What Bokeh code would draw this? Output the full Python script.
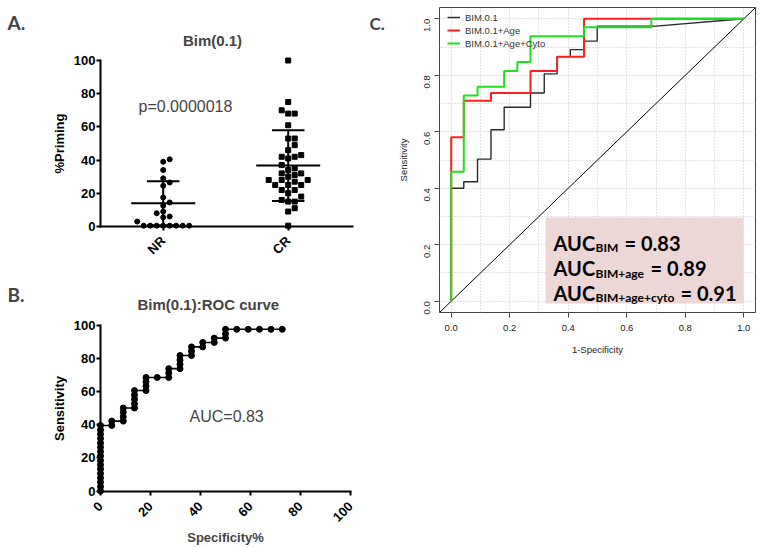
import math
from bokeh.plotting import figure
from bokeh.models import (Range1d, FixedTicker, LinearAxis, Label, Legend, LegendItem,
                          BoxAnnotation, Slope)
from bokeh.layouts import row, column
from bokeh.embed import file_html
from bokeh.resources import INLINE

# ---------------- data ----------------
groups = ["NR", "CR"]
nr_priming = [40.5, 39, 34, 29, 26.5, 24.5, 17.5, 14.5, 12.5, 9, 8, 6, 5.5, 3,
              0.5, 0.5, 0.5, 0.5, 0.5, 0.5, 0.5, 0.5]
cr_priming = [100, 75, 70, 68, 68, 61, 53, 53, 49, 46, 42, 43, 42, 41, 37, 32, 32, 31,
              30, 28, 28, 28, 25, 25, 25, 22, 22, 20, 18, 16, 15, 15, 11, 9, 0.5, 34, 27, 35]
group_mean = [14.0, 36.7]
group_sd = [13.3, 21.3]
p_text = "p=0.0000018"
priming_ticks = [0, 20, 40, 60, 80, 100]

roc_spec_pct = [0, 0, 0, 0, 0, 0, 0, 0, 0, 0, 0, 0, 0, 0, 0, 0,
                4.5, 4.5,
                9.1, 9.1, 9.1, 9.1,
                13.6, 13.6, 13.6, 13.6, 13.6,
                18.2, 18.2, 18.2, 18.2,
                22.7,
                27.3, 27.3, 27.3,
                31.8, 31.8, 31.8, 31.8,
                36.4, 36.4, 36.4,
                40.9, 40.9,
                45.5, 45.5,
                50.0, 50.0, 50.0,
                54.5, 59.1, 63.6, 68.2, 72.7]
roc_sens_pct = [0, 2.6, 5.3, 7.9, 10.5, 13.2, 15.8, 18.4, 21.1, 23.7, 26.3, 28.9, 31.6, 34.2, 36.8, 39.5,
                39.5, 42.1,
                42.1, 44.7, 47.4, 50.0,
                50.0, 52.6, 55.3, 57.9, 60.5,
                60.5, 63.2, 65.8, 68.4,
                68.4,
                68.4, 71.1, 73.7,
                73.7, 76.3, 78.9, 81.6,
                81.6, 84.2, 86.8,
                86.8, 89.5,
                89.5, 92.1,
                92.1, 94.7, 97.4,
                97.4, 97.4, 97.4, 97.4, 97.4]
roc_ticks = [0, 20, 40, 60, 80, 100]
auc_b_text = "AUC=0.83"

fpr_bim = [0, 0, 0.043, 0.043, 0.090, 0.090, 0.136, 0.136, 0.181, 0.181, 0.271, 0.271,
           0.318, 0.318, 0.362, 0.362, 0.407, 0.407, 0.454, 0.454, 0.499, 0.499, 0.70, 1.0]
tpr_bim = [0, 0.400, 0.400, 0.423, 0.423, 0.503, 0.503, 0.607, 0.607, 0.687, 0.687, 0.737,
           0.737, 0.805, 0.805, 0.866, 0.866, 0.891, 0.891, 0.921, 0.921, 0.974, 0.974, 1.0]
fpr_age = [0, 0, 0.043, 0.043, 0.136, 0.136, 0.271, 0.271, 0.362, 0.362, 0.454, 0.454, 1.0]
tpr_age = [0, 0.581, 0.581, 0.710, 0.710, 0.737, 0.737, 0.815, 0.815, 0.866, 0.866, 1.0, 1.0]
fpr_cyto = [0, 0, 0.043, 0.043, 0.090, 0.090, 0.181, 0.181, 0.226, 0.226, 0.271, 0.271,
            0.454, 0.454, 0.684, 0.684, 1.0]
tpr_cyto = [0, 0.458, 0.458, 0.728, 0.728, 0.759, 0.759, 0.815, 0.815, 0.847, 0.847, 0.938,
            0.938, 0.970, 0.970, 1.0, 1.0]
c_ticks = [0.0, 0.2, 0.4, 0.6, 0.8, 1.0]
c_tick_labels = ["0.0", "0.2", "0.4", "0.6", "0.8", "1.0"]
c_grid = [0.0, 0.1, 0.2, 0.3, 0.4, 0.5, 0.6, 0.7, 0.8, 0.9, 1.0]
legend_names = ["BIM.0.1", "BIM.0.1+Age", "BIM.0.1+Age+Cyto"]
auc_subs = ["BIM", "BIM+age", "BIM+age+cyto"]
auc_vals = ["= 0.83", "= 0.89", "= 0.91"]

# ---------------- styles ----------------
ARIAL = "Liberation Sans"
BOLDF = "Lato"
C_BLACK = "#2a2a2a"
C_RED = "#ff1e1e"
C_GREEN = "#1fe01f"


def prism_axis(ax):
    ax.axis_line_width = 2
    ax.axis_line_color = "black"
    ax.axis_line_cap = "square"
    ax.major_tick_line_width = 2
    ax.major_tick_line_color = "black"
    ax.major_tick_out = 4
    ax.major_tick_in = 0
    ax.minor_tick_line_color = None
    ax.major_label_text_font = ARIAL
    ax.major_label_text_font_style = "bold"
    ax.major_label_text_font_size = "13px"
    ax.major_label_text_color = "black"
    ax.major_label_standoff = 1
    ax.axis_label_text_font = ARIAL
    ax.axis_label_text_font_style = "bold"
    ax.axis_label_text_font_size = "13px"
    ax.axis_label_text_color = "black"
    ax.axis_label_standoff = 4


def swarm(vals, px_per_unit, step_px, min_dy_px):
    order = sorted(range(len(vals)), key=lambda i: vals[i])
    placed = []
    offs = [0.0] * len(vals)
    cands = [0]
    for n in range(1, 40):
        cands += [n, -n]
    for i in order:
        yv = vals[i] * px_per_unit
        xo = 0.0
        for c in cands:
            xo = c * step_px
            if all(abs(xo - px) >= step_px - 1e-6 or abs(yv - py) >= min_dy_px for py, px in placed):
                break
        placed.append((yv, xo))
        offs[i] = xo
    return offs


def bare_fig(w, h, xr, yr):
    p = figure(width=w, height=h, x_range=xr, y_range=yr, output_backend="svg",
               toolbar_location=None, x_axis_type=None, y_axis_type=None,
               min_border_left=0, min_border_right=0, min_border_top=0, min_border_bottom=0)
    p.outline_line_color = None
    p.background_fill_color = "white"
    p.border_fill_color = "white"
    return p


# page geometry (the page itself has no margin)
PAGE_W = 762
SPLIT_X = 392

# ---------------- panel A ----------------
A_LEFT, A_TOP, A_W, A_H = 0, 0, SPLIT_X, 266
A_NR_PX, A_CR_PX = 162.7, 287.7
A_Y0_PX, A_Y100_PX = 226.0, 60.0
A_XEND_PX = 352.0
A_YAX_PX = 100.0
a_sx = A_CR_PX - A_NR_PX
a_sy = (A_Y0_PX - A_Y100_PX) / 100.0
a_x0 = 1 - (A_NR_PX - A_LEFT) / a_sx


def a_x(px):
    return a_x0 + (px - A_LEFT) / a_sx


def a_y(py):
    return (A_Y0_PX - py) / a_sy


pA = bare_fig(A_W, A_H, Range1d(a_x0, a_x0 + A_W / a_sx),
              Range1d(-(A_TOP + A_H - A_Y0_PX) / a_sy, (A_Y0_PX - A_TOP) / a_sy))

gx = [i + 1 for i in range(len(groups))]
ya = LinearAxis(fixed_location=a_x(A_YAX_PX), bounds=(0, 100),
                ticker=FixedTicker(ticks=priming_ticks), axis_label="%Priming")
prism_axis(ya)
pA.add_layout(ya, "left")
xa = LinearAxis(fixed_location=0, bounds=(a_x(A_YAX_PX), a_x(A_XEND_PX)),
                ticker=FixedTicker(ticks=gx),
                major_label_overrides={g: name for g, name in zip(gx, groups)},
                major_label_orientation=math.pi / 4)
prism_axis(xa)
xa.major_label_standoff = 8
pA.add_layout(xa, "below")

nr_off = swarm(nr_priming, a_sy, 6.5, 5.0)
cr_off = swarm(cr_priming, a_sy, 6.5, 5.0)
pA.scatter([gx[0] + o / a_sx for o in nr_off], nr_priming, marker="circle", size=5,
           color="black")
pA.scatter([gx[1] + o / a_sx for o in cr_off], cr_priming, marker="square", size=5,
           color="black")
MEAN_HALF, CAP_HALF = 0.256, 0.13
pA.segment(x0=[g - MEAN_HALF for g in gx], y0=group_mean, x1=[g + MEAN_HALF for g in gx],
           y1=group_mean, line_width=2, color="black")
lo = [m - s for m, s in zip(group_mean, group_sd)]
hi = [m + s for m, s in zip(group_mean, group_sd)]
pA.segment(x0=gx, y0=lo, x1=gx, y1=hi, line_width=2, color="black")
pA.segment(x0=[g - CAP_HALF for g in gx], y0=hi, x1=[g + CAP_HALF for g in gx], y1=hi,
           line_width=2, color="black")
pA.segment(x0=[g - CAP_HALF for g in gx], y0=lo, x1=[g + CAP_HALF for g in gx], y1=lo,
           line_width=2, color="black")

pA.add_layout(Label(x=a_x(7), y=a_y(22), text="A.", text_font=BOLDF, text_font_style="bold",
                    text_font_size="19px", text_baseline="alphabetic"))
pA.add_layout(Label(x=a_x(212), y=a_y(40), text="Bim(0.1)", text_font=ARIAL,
                    text_font_style="bold", text_font_size="15px", text_align="center",
                    text_baseline="alphabetic"))
pA.add_layout(Label(x=a_x(138), y=a_y(106), text=p_text, text_font=ARIAL,
                    text_font_size="16px", text_baseline="alphabetic"))
# panel C letter sits left of panel C's frame, inside this figure's area
pA.add_layout(Label(x=a_x(369), y=a_y(23), text="C.", text_font=BOLDF, text_font_style="bold",
                    text_font_size="17px", text_baseline="alphabetic"))

# ---------------- panel B ----------------
B_LEFT, B_TOP, B_W, B_H = 0, A_TOP + A_H, SPLIT_X, 280
B_X0_PX, B_X100_PX = 100.0, 350.0
B_Y0_PX, B_Y100_PX = 490.5, 324.5
b_sx = (B_X100_PX - B_X0_PX) / 100.0
b_sy = (B_Y0_PX - B_Y100_PX) / 100.0


def b_x(px):
    return (px - B_X0_PX) / b_sx


def b_y(py):
    return (B_Y0_PX - py) / b_sy


pB = bare_fig(B_W, B_H, Range1d(b_x(B_LEFT), b_x(B_LEFT + B_W)),
              Range1d(b_y(B_TOP + B_H), b_y(B_TOP)))
yb = LinearAxis(fixed_location=0, bounds=(0, 100), ticker=FixedTicker(ticks=roc_ticks),
                axis_label="Sensitivity")
prism_axis(yb)
pB.add_layout(yb, "left")
xb = LinearAxis(fixed_location=0, bounds=(0, 100), ticker=FixedTicker(ticks=roc_ticks),
                major_label_orientation=math.pi / 4)
prism_axis(xb)
xb.major_label_standoff = 9
pB.add_layout(xb, "below")

pB.line(roc_spec_pct, roc_sens_pct, line_width=1.6, color="black")
pB.scatter(roc_spec_pct, roc_sens_pct, marker="circle", size=6, color="black")

pB.add_layout(Label(x=b_x(225), y=b_y(537), text="Specificity%", text_font=ARIAL,
                    text_font_style="bold", text_font_size="13px", text_align="center",
                    text_baseline="alphabetic"))
pB.add_layout(Label(x=b_x(7), y=b_y(294), text="B.", text_font=BOLDF, text_font_style="bold",
                    text_font_size="19px", text_baseline="alphabetic"))
pB.add_layout(Label(x=b_x(137), y=b_y(304), text="Bim(0.1):ROC curve", text_font=ARIAL,
                    text_font_style="bold", text_font_size="15px", text_baseline="alphabetic"))
pB.add_layout(Label(x=b_x(189), y=b_y(416), text=auc_b_text, text_font=ARIAL,
                    text_font_size="16px", text_baseline="alphabetic"))

# ---------------- panel C ----------------
C_FLEFT_PX = 439
C_BL, C_BT, C_BB = C_FLEFT_PX - SPLIT_X, 7, 60
C_FW, C_FH = 316, 305
C_W = PAGE_W - SPLIT_X
C_BR = C_W - C_BL - C_FW
C_H = C_FH + C_BT + C_BB
C_FLEFT = SPLIT_X + C_BL
C_FTOP = C_BT
CR_LO, CR_HI = -0.04, 1.04
c_sx = C_FW / (CR_HI - CR_LO)
c_sy = C_FH / (CR_HI - CR_LO)


def c_x(px):
    return CR_LO + (px - C_FLEFT) / c_sx


def c_y(py):
    return CR_HI - (py - C_FTOP) / c_sy


pC = figure(width=C_W, height=C_H, x_range=Range1d(CR_LO, CR_HI), y_range=Range1d(CR_LO, CR_HI),
            output_backend="svg", toolbar_location=None,
            min_border_left=C_BL, min_border_right=C_BR, min_border_top=C_BT,
            min_border_bottom=C_BB)
pC.background_fill_color = "white"
pC.border_fill_color = "white"
pC.outline_line_color = "#444444"
pC.outline_line_width = 1
for ax in (pC.xaxis[0], pC.yaxis[0]):
    ax.ticker = FixedTicker(ticks=c_ticks)
    ax.major_label_overrides = {t: s for t, s in zip(c_ticks, c_tick_labels)}
    ax.axis_line_color = None
    ax.major_tick_out = 5
    ax.major_tick_in = 0
    ax.major_tick_line_color = "#444444"
    ax.minor_tick_line_color = None
    ax.major_label_text_font = ARIAL
    ax.major_label_text_font_size = "9.5px"
    ax.major_label_text_color = "#222222"
    ax.axis_label_text_font = ARIAL
    ax.axis_label_text_font_size = "9.5px"
    ax.axis_label_text_font_style = "normal"
    ax.axis_label_text_color = "#222222"
pC.xaxis.axis_label = "1-Specificity"
pC.yaxis.axis_label = "Sensitivity"
pC.xaxis.major_label_standoff = 7
pC.xaxis.axis_label_standoff = 10
pC.yaxis.major_label_standoff = 7
pC.yaxis.axis_label_standoff = 10
pC.yaxis.major_label_orientation = math.pi / 2
for g in (pC.xgrid[0], pC.ygrid[0]):
    g.ticker = FixedTicker(ticks=c_grid)
    g.grid_line_color = "#c4c4c4"
    g.grid_line_dash = "1 2"
    g.grid_line_width = 1

pC.add_layout(Slope(gradient=1, y_intercept=0, line_color="black", line_width=1,
                    level="underlay"))
r_bim = pC.line(fpr_bim, tpr_bim, line_color=C_BLACK, line_width=1.4)
r_age = pC.line(fpr_age, tpr_age, line_color=C_RED, line_width=2)
r_cyto = pC.line(fpr_cyto, tpr_cyto, line_color=C_GREEN, line_width=2)

legend = Legend(items=[LegendItem(label=n, renderers=[r]) for n, r in
                       zip(legend_names, [r_bim, r_age, r_cyto])],
                location=(8, C_FH - 3 - 39), margin=0, padding=0, spacing=1,
                glyph_width=13, glyph_height=12, label_height=12, label_standoff=5,
                label_text_font=ARIAL, label_text_font_size="9.5px",
                label_text_color="#333333", border_line_color=None,
                background_fill_alpha=0)
pC.add_layout(legend)

pC.add_layout(BoxAnnotation(left=c_x(545), right=c_x(743), top=c_y(217), bottom=c_y(303),
                            fill_color="#ecd6d6", fill_alpha=1.0, line_color=None))
auc_base_py = [242, 267.5, 292]
auc_eq_px = [624, 650, 680]
for base, sub, val, eqx in zip(auc_base_py, auc_subs, auc_vals, auc_eq_px):
    pC.add_layout(Label(x=c_x(553), y=c_y(base), text="AUC", text_font=BOLDF,
                        text_font_style="bold", text_font_size="20px",
                        text_baseline="alphabetic", text_color="black"))
    pC.add_layout(Label(x=c_x(595), y=c_y(base + 5), text=sub, text_font=BOLDF,
                        text_font_style="bold", text_font_size="12px",
                        text_baseline="alphabetic", text_color="black"))
    pC.add_layout(Label(x=c_x(eqx), y=c_y(base), text=val, text_font=BOLDF,
                        text_font_style="bold", text_font_size="20px",
                        text_baseline="alphabetic", text_color="black"))

layout = row(column(pA, pB), pC)
open("out.html", "w").write(file_html(layout, INLINE))
